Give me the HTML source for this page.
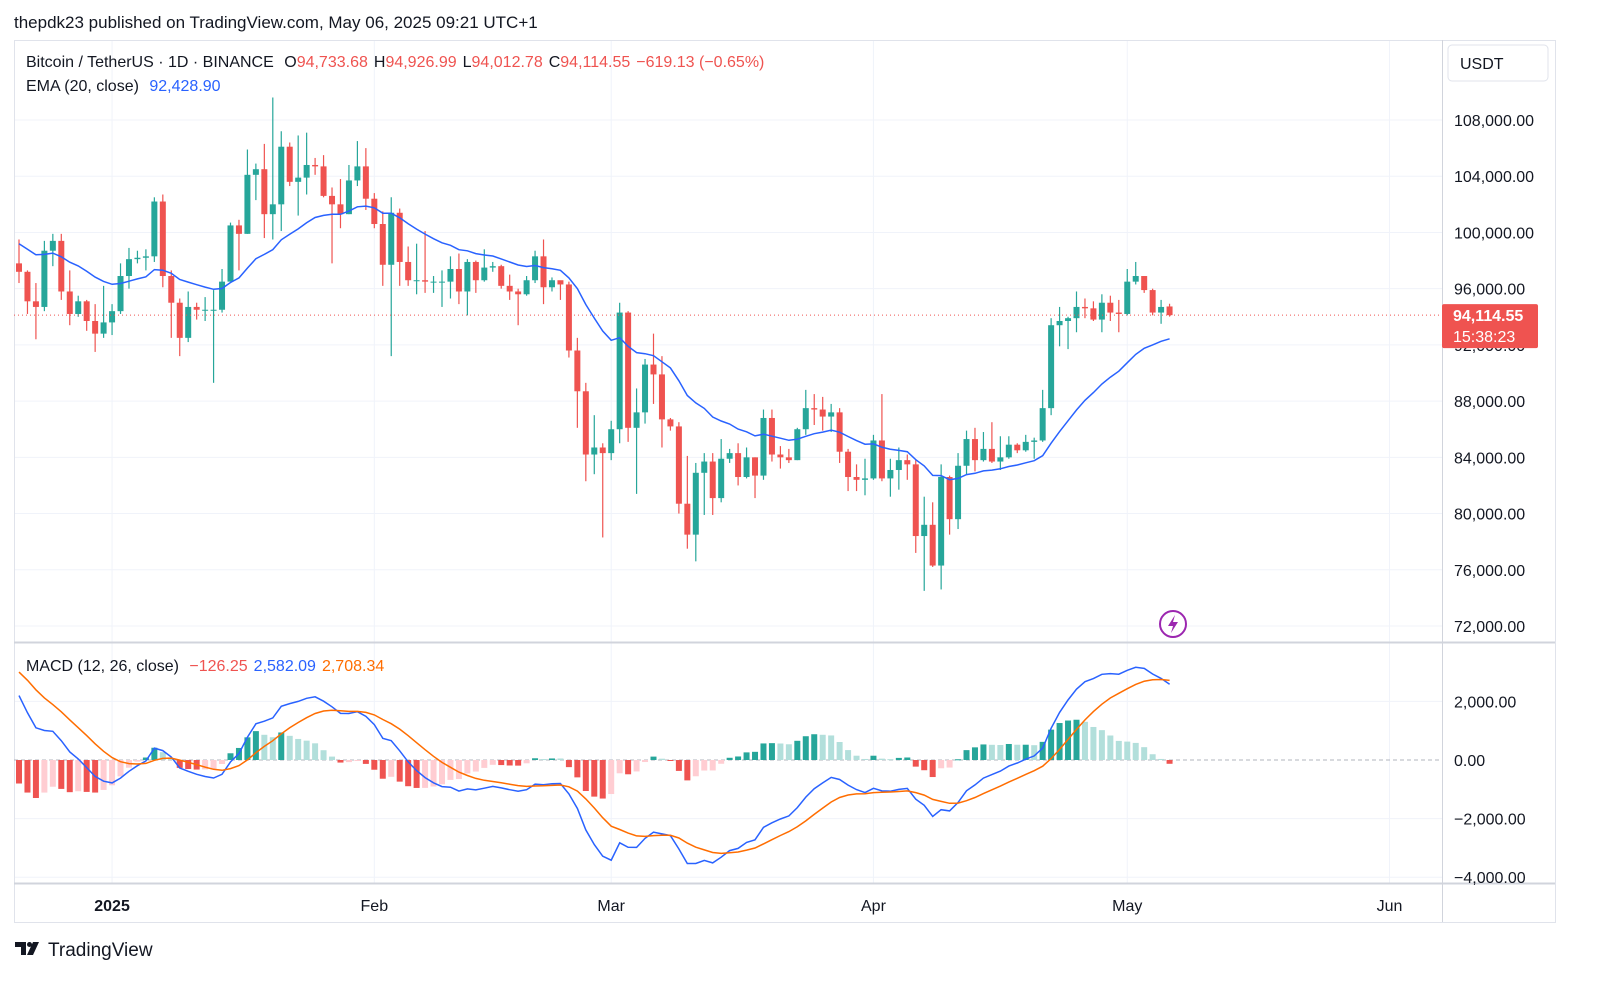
<!DOCTYPE html>
<html><head><meta charset="utf-8">
<style>
body{margin:0;background:#fff;font-family:"Liberation Sans",sans-serif;}
svg text{font-family:"Liberation Sans",sans-serif;}
</style></head>
<body>
<svg id="chart" width="1600" height="995" xmlns="http://www.w3.org/2000/svg">
<rect x="0" y="0" width="1600" height="995" fill="#fff"/>
<text x="14" y="28" font-size="17" fill="#131722">thepdk23 published on TradingView.com, May 06, 2025 09:21 UTC+1</text>
<g id="grid"></g>
<g id="frame">
<rect x="14.5" y="40.5" width="1541" height="882" fill="none" stroke="#e0e3eb"/>
<line x1="1442.5" y1="40" x2="1442.5" y2="922" stroke="#d1d4dc"/>
<line x1="14" y1="642.5" x2="1555" y2="642.5" stroke="#d1d4dc" stroke-width="2"/>
<line x1="14" y1="883.5" x2="1555" y2="883.5" stroke="#d1d4dc" stroke-width="2"/>
</g>
<g id="candles"></g>
<g id="ema"></g>
<g id="macd"></g>
<g id="axes"></g>
<g>
<text x="26" y="67" font-size="16" fill="#131722">Bitcoin / TetherUS · 1D · BINANCE <tspan dx="6">O</tspan><tspan fill="#ef5350">94,733.68</tspan><tspan dx="6">H</tspan><tspan fill="#ef5350">94,926.99</tspan><tspan dx="6">L</tspan><tspan fill="#ef5350">94,012.78</tspan><tspan dx="6">C</tspan><tspan fill="#ef5350">94,114.55</tspan><tspan dx="6" fill="#ef5350">−619.13 (−0.65%)</tspan></text>
<text x="26" y="91" font-size="16" fill="#131722">EMA (20, close) <tspan dx="6" fill="#2962ff">92,428.90</tspan></text>
<text x="26" y="671" font-size="16" fill="#131722">MACD (12, 26, close) <tspan dx="6" fill="#ef5350">−126.25</tspan><tspan dx="6" fill="#2962ff">2,582.09</tspan><tspan dx="6" fill="#ff6d00">2,708.34</tspan></text>
</g>
<rect x="1448" y="45" width="100" height="36" rx="4" fill="#fff" stroke="#e0e3eb"/>
<text x="1460" y="69" font-size="16" fill="#131722">USDT</text>
<g>
<circle cx="1173" cy="624" r="13" fill="#fff" stroke="#9c27b0" stroke-width="2"/>
<path d="M1175 615 L1168 626 L1173 626 L1171 633 L1178 622 L1173 622 Z" fill="#9c27b0"/>
</g>
<g>
<path d="M15 942 h11 v13 h-5 v-8 h-6z" fill="#131722"/><circle cx="29.5" cy="944.5" r="2.5" fill="#131722"/><path d="M33 942 h6 l-6 13 h-6z" fill="#131722"/>
<text x="48" y="956" font-size="19" fill="#131722">TradingView</text>
</g>
</svg>
<script>
const closes=[97.2,95.1,94.7,98.7,99.4,95.8,94.2,95.1,93.7,92.8,93.6,
94.4,96.9,98.1,98.2,98.3,102.2,96.9,95.0,92.5,94.7,94.5,94.5,94.5,96.5,100.5,99.9,104.1,104.5,101.3,102.0,106.1,103.6,103.9,104.8,104.7,102.6,102.0,101.3,103.7,104.7,102.4,
100.6,97.7,101.4,97.9,96.6,96.6,96.5,96.5,96.5,97.4,95.8,97.9,96.6,97.5,97.6,96.2,95.8,95.6,96.6,98.3,96.1,96.6,96.3,91.6,88.7,84.2,84.7,84.3,
86.0,94.3,86.1,87.2,90.6,89.9,86.7,86.2,80.7,78.5,82.9,83.7,81.1,83.9,84.3,82.6,84.0,82.7,86.8,84.2,84.0,83.8,86.0,87.5,87.4,86.9,87.2,84.4,82.6,82.4,82.5,
85.2,82.5,83.1,83.8,83.5,78.4,79.2,76.3,82.6,79.6,83.4,85.3,83.8,84.6,83.7,84.0,84.9,84.5,85.1,85.2,87.5,93.4,93.7,93.9,94.7,94.6,93.8,95.0,94.3,94.2,
96.5,96.9,95.9,94.3,94.7,94.11455];
const highs=[99.5,97.3,96.4,99.4,99.9,99.9,97.3,95.5,95.2,94.9,96.2,
94.9,97.8,98.9,98.7,98.8,102.5,102.7,97.3,95.3,95.8,95.0,95.4,95.9,97.4,100.7,100.9,105.9,104.9,106.3,109.6,107.2,106.4,106.9,107.1,105.3,105.5,103.2,103.8,104.8,106.5,106.0,
102.8,101.5,102.5,101.7,99.0,99.2,100.1,96.9,97.3,98.3,98.5,98.1,98.0,98.8,97.9,97.7,97.0,96.0,96.9,98.7,99.5,96.8,96.5,96.5,92.5,89.3,87.0,85.0,
86.6,95.0,94.4,88.9,91.0,92.8,91.2,86.8,86.5,84.1,83.6,84.3,84.3,85.3,84.6,85.0,84.7,84.0,87.4,87.4,84.8,84.6,86.1,88.8,88.5,88.3,87.8,87.5,84.6,83.5,83.9,
85.6,88.5,83.9,84.7,84.2,83.8,81.2,80.8,83.5,82.7,84.3,85.9,86.1,85.8,86.5,85.5,85.5,85.0,85.6,85.4,88.8,93.9,94.7,94.0,95.8,95.3,95.1,95.6,95.5,95.2,
97.4,97.9,96.9,96.0,95.2,94.927];
const lows=[96.4,94.2,92.4,94.4,97.6,95.2,93.4,94.0,93.0,91.5,92.5,
92.7,94.2,96.0,97.8,97.3,97.9,96.1,92.5,91.2,92.2,93.8,93.7,89.3,94.3,96.5,97.3,99.9,102.3,99.6,99.5,100.1,103.3,101.2,102.7,104.1,102.5,97.8,100.3,101.3,103.3,101.6,
100.3,96.2,91.2,96.2,96.2,95.6,95.7,95.7,94.7,95.3,94.9,94.1,95.7,96.5,97.2,96.0,95.2,93.4,95.5,96.4,94.9,95.8,95.2,91.1,86.1,82.3,82.8,78.3,
83.8,85.0,85.1,81.4,86.4,87.8,84.7,85.9,80.0,77.5,76.6,79.9,79.9,80.8,83.6,82.0,82.5,81.1,82.4,83.7,83.2,83.6,83.8,85.6,86.3,85.9,85.8,83.6,81.6,81.6,81.3,
82.4,82.3,81.2,81.7,82.4,77.2,74.5,76.2,74.6,78.5,78.9,82.8,83.0,83.7,83.6,83.1,83.9,84.3,84.4,83.9,85.1,87.0,91.9,91.7,92.9,93.9,93.7,92.9,93.7,92.9,
94.1,96.3,95.7,94.1,93.5,94.013];
const firstOpen=97.8;
const lastOpen=94.73368;
const priceTicks=[108000,104000,100000,96000,92000,88000,84000,80000,76000,72000];
const macdTicks=[2000,0,-2000,-4000];
const monthLabels=["2025","Feb","Mar","Apr","May","Jun"];
const monthDayIdx=[11,42,70,101,131,162];

const NS="http://www.w3.org/2000/svg";
function mk(tag,attrs,parent){const e=document.createElementNS(NS,tag);for(const k in attrs)e.setAttribute(k,attrs[k]);parent.appendChild(e);return e;}
const X0=19,DX=8.46;
function xAt(i){return X0+i*DX;}
function yP(p){return 120+(108-p)*506/36;}
function yM(v){return 760-v*0.0293;}

const grid=document.getElementById('grid');
priceTicks.forEach(t=>{const y=yP(t/1000);if(y>40&&y<640){const l=mk('line',{x1:14,x2:1442,y1:y,y2:y,stroke:'#f0f3fa'},grid);

}});
macdTicks.forEach(t=>{const y=yM(t);if(t!==0){const l=mk('line',{x1:14,x2:1442,y1:y,y2:y,stroke:'#f0f3fa'},grid);

}});
monthDayIdx.forEach(d=>{const x=xAt(d);const l=mk('line',{x1:x,x2:x,y1:40,y2:883,stroke:'#f0f3fa'},grid);

});

const cg=document.getElementById('candles');
const opens=[];
closes.forEach((c,i)=>{
  const o=i===0?firstOpen:(i===closes.length-1?lastOpen:closes[i-1]);opens.push(o);
  const up=c>=o;const col=up?'#26a69a':'#ef5350';const x=xAt(i);
  const g=mk('g',{},cg);
  
  
  mk('line',{x1:x,x2:x,y1:yP(highs[i]),y2:yP(lows[i]),stroke:col,'stroke-width':1.2},g);
  const yt=yP(Math.max(o,c)),yb=yP(Math.min(o,c));
  mk('rect',{x:x-3,y:yt,width:6,height:Math.max(1,yb-yt),fill:col},g);
});
const lp=closes[closes.length-1];const ly=yP(lp);
const pl=mk('line',{x1:14,x2:1442,y1:ly,y2:ly,stroke:'#ef5350','stroke-dasharray':'1 3'},cg);



const eg=document.getElementById('ema');
let ema=99.4;const emaPts=[];const k20=2/21;
closes.forEach((c,i)=>{ema=c*k20+ema*(1-k20);emaPts.push(xAt(i).toFixed(1)+','+yP(ema).toFixed(1));});
const ep=mk('polyline',{points:emaPts.join(' '),fill:'none',stroke:'#2962ff','stroke-width':1.5},eg);



const mg=document.getElementById('macd');
const z=mk('line',{x1:14,x2:1442,y1:yM(0),y2:yM(0),stroke:'#b2b5be','stroke-dasharray':'4 3'},mg);


let e12=101000,e26=98300,sig=3200;let prevH=null;const mPts=[],sPts=[];
closes.forEach((c,i)=>{
  const p=c*1000;e12=p*2/13+e12*11/13;e26=p*2/27+e26*25/27;const m=e12-e26;sig=m*0.2+sig*0.8;const h=m-sig;
  const x=xAt(i);mPts.push(x.toFixed(1)+','+yM(m).toFixed(1));sPts.push(x.toFixed(1)+','+yM(sig).toFixed(1));
  let col;if(h>=0)col=(prevH===null||h>=prevH)?'#26a69a':'#b2dfdb';else col=(prevH===null||h<=prevH)?'#ef5350':'#ffcdd2';
  prevH=h;
  const r=mk('rect',{x:x-3,y:Math.min(yM(0),yM(h)),width:6,height:Math.max(1,Math.abs(yM(h)-yM(0))),fill:col},mg);
  
  
});
const ml=mk('polyline',{points:mPts.join(' '),fill:'none',stroke:'#2962ff','stroke-width':1.5},mg);


const sl=mk('polyline',{points:sPts.join(' '),fill:'none',stroke:'#ff6d00','stroke-width':1.5},mg);



const ag=document.getElementById('axes');
priceTicks.forEach(t=>{const tx=mk('text',{x:1454,y:yP(t/1000)+6,'font-size':16,fill:'#131722'},ag);


tx.textContent=t.toLocaleString('en-US',{minimumFractionDigits:2});});
macdTicks.forEach(t=>{const tx=mk('text',{x:1454,y:yM(t)+6,'font-size':16,fill:'#131722'},ag);


tx.textContent=(t<0?'−':'')+Math.abs(t).toLocaleString('en-US',{minimumFractionDigits:2});});
monthLabels.forEach((m,i)=>{const tx=mk('text',{x:xAt(monthDayIdx[i]),y:911,'font-size':16,fill:'#131722','text-anchor':'middle','font-weight':i===0?'bold':'normal'},ag);


tx.textContent=m;});
const lb=mk('g',{},ag);


mk('rect',{x:1442,y:ly-11,width:96,height:44,rx:2,fill:'#ef5350'},lb);
const t1=mk('text',{x:1453,y:ly+6,'font-size':16,'font-weight':'bold',fill:'#fff'},lb);t1.textContent=(lp*1000).toLocaleString('en-US',{minimumFractionDigits:2,maximumFractionDigits:2});
const t2=mk('text',{x:1453,y:ly+27,'font-size':16,fill:'#fff'},lb);t2.textContent='15:38:23';
</script>
</body></html>
